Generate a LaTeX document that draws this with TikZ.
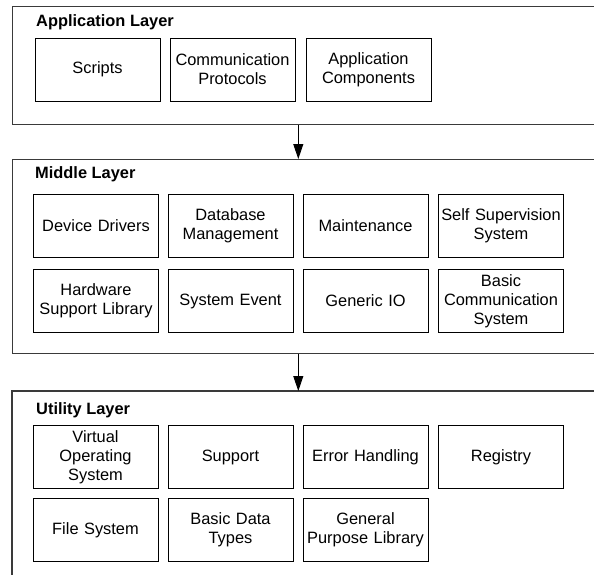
\documentclass[tikz,border=0pt]{standalone}
\usepackage{fontspec}
\setmainfont{Liberation Sans}
\usetikzlibrary{arrows.meta}
\definecolor{framegray}{HTML}{3A3A3A}
\begin{document}
\begin{tikzpicture}[x=1pt,y=-1pt,
  comp/.style={draw=black,line width=0.9pt,minimum width=125pt,minimum height=63pt,
    text width=122pt,align=center,inner sep=0pt,font=\fontsize{16.4}{19}\selectfont},
  layer/.style={draw=framegray,line width=1.2pt,inner sep=0pt,anchor=north west},
  ltitle/.style={anchor=west,inner sep=0pt,font=\fontsize{16.4}{19}\selectfont\bfseries},
  flow/.style={draw=black,line width=0.9pt,-{Triangle[length=15pt,width=10pt]}}]
\useasboundingbox (0,0) rectangle (594,574);
% layer frames
\node[layer,minimum width=581.5pt,minimum height=118pt] (app) at (12,6) {};
\node[layer,minimum width=581.5pt,minimum height=194pt] (mid) at (12,159) {};
\node[layer,draw=none,minimum width=581.5pt,minimum height=190pt] (util) at (12,391) {};
\draw[framegray,line width=1.2pt] (util.south west) -- (util.north west) -- (util.north east) -- (util.south east);
% titles
\node[ltitle] (tapp) at (36,22) {Application Layer};
\node[ltitle] (tmid) at (35,174) {Middle Layer};
\node[ltitle] (tutil) at (36,410) {Utility Layer};
% application layer
\node[comp] (scripts) at (97.5,69.5) {Scripts};
\node[comp] (commprot) at (232.5,69.5) {Communication\\Protocols};
\node[comp] (appcomp) at (368.5,69.5) {Application\\Components};
% middle layer
\node[comp] (devdrv) at (96,225.5) {Device Drivers};
\node[comp] (dbm) at (230.5,225.5) {Database\\Management};
\node[comp] (maint) at (365.5,225.5) {Maintenance};
\node[comp] (selfsup) at (501,225.5) {Self Supervision\\System};
\node[comp] (hwlib) at (96,301) {Hardware\\Support Library};
\node[comp] (sysev) at (230.5,301) {System Event};
\node[comp] (genio) at (365.5,301) {Generic IO};
\node[comp] (bcs) at (501,301) {Basic\\Communication\\System};
% utility layer
\node[comp] (vos) at (95.5,457) {Virtual\\Operating\\System};
\node[comp] (support) at (230.5,457) {Support};
\node[comp] (errh) at (365.5,457) {Error Handling};
\node[comp] (registry) at (501,457) {Registry};
\node[comp] (filesys) at (95.5,530) {File System};
\node[comp] (bdt) at (230.5,530) {Basic Data\\Types};
\node[comp] (gpl) at (365.5,530) {General\\Purpose Library};
% arrows
\coordinate (ax) at (298.3,0);
\draw[flow] (app.south -| ax) -- (mid.north -| ax);
\draw[flow] (mid.south -| ax) -- (util.north -| ax);
\end{tikzpicture}
\end{document}
